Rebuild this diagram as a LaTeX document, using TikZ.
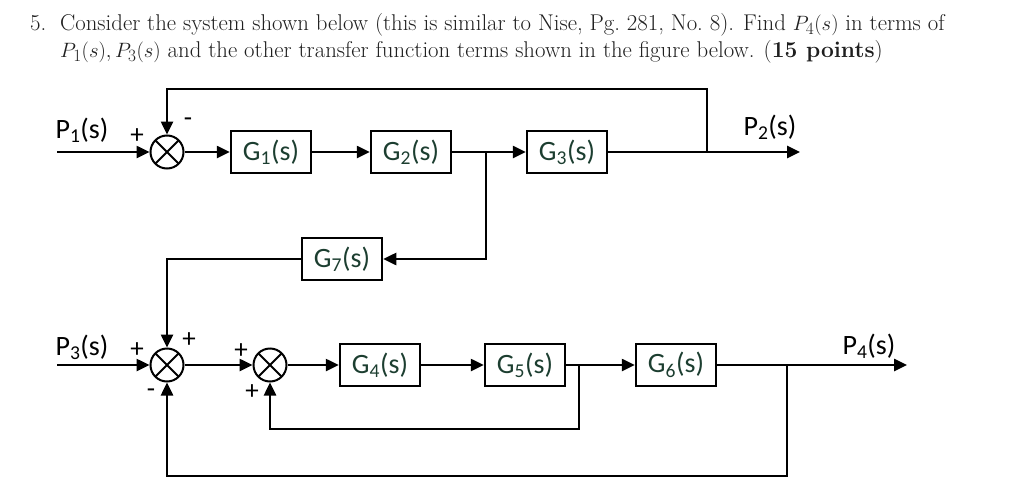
\documentclass[tikz,border=0pt]{standalone}
\usepackage{fontspec}
\newfontfamily\carl{Carlito}
\usetikzlibrary{arrows.meta}
\definecolor{gtext}{RGB}{28,62,48}
\begin{document}
\begin{tikzpicture}[x=1pt,y=-1pt,
  blk/.style={draw, line width=2.5pt, minimum width=80pt, minimum height=42pt, inner sep=0pt,
    font=\carl\fontsize{28}{28}\selectfont, text=gtext},
  sum/.style={draw, circle, line width=2pt, minimum size=33pt, inner sep=0pt,
    path picture={\draw[line width=2pt] (path picture bounding box.south west) -- (path picture bounding box.north east)
      (path picture bounding box.north west) -- (path picture bounding box.south east);}},
  sig/.style={line width=2.5pt, -{Triangle[length=13pt,width=12pt]}},
  wire/.style={line width=2.5pt},
  lbl/.style={font=\carl\fontsize{28}{28}\selectfont, inner sep=0pt},
  sgn/.style={font=\carl\fontsize{27}{27}\selectfont, inner sep=0pt},
  ttl/.style={font=\fontsize{22.8}{26}\selectfont, anchor=base west, inner sep=0pt, text=black!88}
]
\useasboundingbox (0,0) rectangle (1024,495);
% title
\node[ttl] (t1) at (30,31) {5.\ \ Consider the system shown below (this is similar to Nise, Pg.\ 281, No.\ 8). Find $P_4(s)$ in terms of};
\node[ttl] (t2) at (60,57.5) {$P_1(s), P_3(s)$ and the other transfer function terms shown in the figure below. (\textbf{15 points})};
% blocks
\node[sum] (s1) at (167,152) {};
\node[blk] (g1) at (271,152) {G\textsubscript{1}(s)};
\node[blk] (g2) at (411,152) {G\textsubscript{2}(s)};
\node[blk] (g3) at (567,152) {G\textsubscript{3}(s)};
\node[blk] (g7) at (342,259) {G\textsubscript{7}(s)};
\node[sum] (s2) at (167,365) {};
\node[sum] (s3) at (270,365) {};
\node[blk] (g4) at (380,365) {G\textsubscript{4}(s)};
\node[blk] (g5) at (525,365) {G\textsubscript{5}(s)};
\node[blk] (g6) at (676,365) {G\textsubscript{6}(s)};
% coordinates
\coordinate (in1) at (57,152);
\coordinate (in3) at (57,365);
\coordinate (out2) at (800,152);
\coordinate (out4) at (907,365);
\coordinate (b1) at (486,152);
\coordinate (b2) at (707,152);
\coordinate (top1) at (167,89);
\coordinate (b3) at (579,365);
\coordinate (f3) at (579,429);
\coordinate (b4) at (787,365);
\coordinate (f4) at (787,476);
% connectors
\draw[sig] (in1) -- (s1);
\draw[sig] (s1) -- (g1);
\draw[sig] (g1) -- (g2);
\draw[sig] (g2) -- (g3);
\draw[sig] (g3) -- (out2);
\draw[sig] (b2) |- (top1) -- (s1);
\draw[sig] (b1) |- (g7);
\draw[sig] (g7) -| (s2);
\draw[sig] (in3) -- (s2);
\draw[sig] (s2) -- (s3);
\draw[sig] (s3) -- (g4);
\draw[sig] (g4) -- (g5);
\draw[sig] (g5) -- (g6);
\draw[sig] (g6) -- (out4);
\draw[sig] (b3) -- (f3) -| (s3);
\draw[sig] (b4) -- (f4) -| (s2);
% labels
\node[lbl] (p1) at (82,130) {P\textsubscript{1}(s)};
\node[lbl] (p2) at (770,127) {P\textsubscript{2}(s)};
\node[lbl] (p3) at (82,347) {P\textsubscript{3}(s)};
\node[lbl] (p4) at (869,346) {P\textsubscript{4}(s)};
\node[sgn] (n1) at (137,136) {+};
\node[sgn] (n2) at (188,122) {-};
\node[sgn] (n3) at (137,350) {+};
\node[sgn] (n4) at (189,340) {+};
\node[sgn] (n5) at (151,393) {-};
\node[sgn] (n6) at (241,351) {+};
\node[sgn] (n7) at (252,392) {+};
\end{tikzpicture}
\end{document}
